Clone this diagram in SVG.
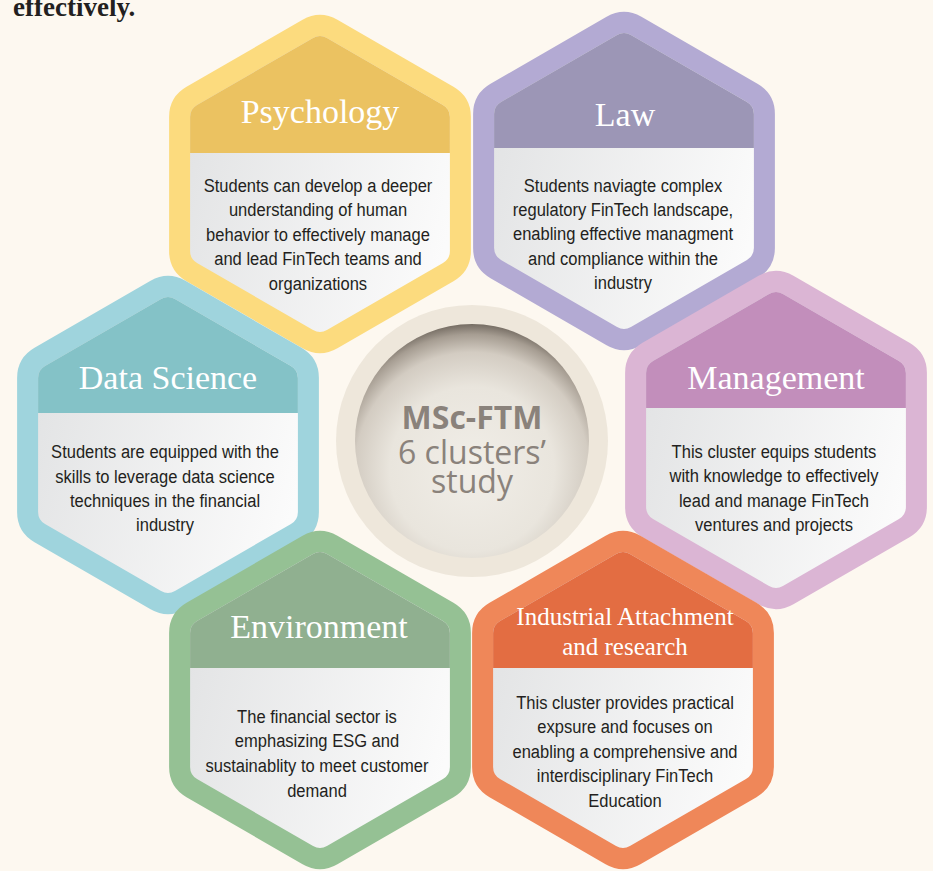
<svg xmlns="http://www.w3.org/2000/svg" xmlns:xlink="http://www.w3.org/1999/xlink" width="933" height="871" viewBox="0 0 933 871">
<defs>
<style>
.ring{fill:none;stroke-width:42;stroke-linejoin:round}
.fill{fill:url(#bodyGrad)}
.title{font-family:"Liberation Serif","Times New Roman",serif;font-size:34px;fill:#ffffff;text-anchor:middle}
.txt{font-family:"Liberation Sans","Arial",sans-serif;font-size:19px;fill:#231f20;text-anchor:middle}
.orb{font-family:"Open Sans","Noto Sans",sans-serif;font-size:32px;fill:#8a827b;text-anchor:middle}
</style>
<path id="hex" d="M6.93,-146 L122.97,-79 Q129.9,-75 129.9,-67 L129.9,67 Q129.9,75 122.97,79 L6.93,146 Q0,150 -6.93,146 L-122.97,79 Q-129.9,75 -129.9,67 L-129.9,-67 Q-129.9,-75 -122.97,-79 L-6.93,-146 Q0,-150 6.93,-146 Z"/>
<clipPath id="clipHex"><use xlink:href="#hex" href="#hex"/></clipPath>
<linearGradient id="bodyGrad" x1="0" y1="0.35" x2="1" y2="0.65">
<stop offset="0" stop-color="#e3e4e5"/>
<stop offset="1" stop-color="#fbfbfb"/>
</linearGradient>
<radialGradient id="orbGrad" cx="0.5" cy="0.62" r="0.64">
<stop offset="0" stop-color="#f1eee8"/>
<stop offset="0.55" stop-color="#e9e5dd"/>
<stop offset="0.78" stop-color="#d3ccc2"/>
<stop offset="0.9" stop-color="#a69d92"/>
<stop offset="1" stop-color="#5f574e"/>
</radialGradient>
</defs>
<rect width="933" height="871" fill="#fdf8f0"/>
<text x="13" y="16" font-family="Liberation Serif, Times New Roman, serif" font-size="27" font-weight="bold" fill="#231f20">effectively.</text>

<g id="psychology">
<g transform="translate(320,184)">
<use href="#hex" class="ring" stroke="#fcdb7e"/>
<use href="#hex" class="fill"/>
<rect x="-160" y="-160" width="320" height="129" fill="#ebc261" clip-path="url(#clipHex)"/>
</g>
<text class="title" x="320" y="123">Psychology</text>
<g transform="translate(318,0) scale(0.87,1)">
<text class="txt" x="0" y="192">Students can develop a deeper</text>
<text class="txt" x="0" y="216.5">understanding of human</text>
<text class="txt" x="0" y="241">behavior to effectively manage</text>
<text class="txt" x="0" y="265.5">and lead FinTech teams and</text>
<text class="txt" x="0" y="290">organizations</text>
</g>
</g>

<g id="law">
<g transform="translate(624,181)">
<use href="#hex" class="ring" stroke="#b3aad3"/>
<use href="#hex" class="fill"/>
<rect x="-160" y="-160" width="320" height="127" fill="#9c96b6" clip-path="url(#clipHex)"/>
</g>
<text class="title" x="625" y="126">Law</text>
<g transform="translate(623,0) scale(0.87,1)">
<text class="txt" x="0" y="192">Students naviagte complex</text>
<text class="txt" x="0" y="216">regulatory FinTech landscape,</text>
<text class="txt" x="0" y="240.5">enabling effective managment</text>
<text class="txt" x="0" y="265">and compliance within the</text>
<text class="txt" x="0" y="289">industry</text>
</g>
</g>

<g id="data-science">
<g transform="translate(168,445)">
<use href="#hex" class="ring" stroke="#9fd4dd"/>
<use href="#hex" class="fill"/>
<rect x="-160" y="-160" width="320" height="128" fill="#84c2c7" clip-path="url(#clipHex)"/>
</g>
<text class="title" x="168" y="389">Data Science</text>
<g transform="translate(165,0) scale(0.87,1)">
<text class="txt" x="0" y="458.5">Students are equipped with the</text>
<text class="txt" x="0" y="483">skills to leverage data science</text>
<text class="txt" x="0" y="507">techniques in the financial</text>
<text class="txt" x="0" y="531.5">industry</text>
</g>
</g>

<g id="management">
<g transform="translate(776,440)">
<use href="#hex" class="ring" stroke="#dbb5d4"/>
<use href="#hex" class="fill"/>
<rect x="-160" y="-160" width="320" height="128" fill="#c28ebb" clip-path="url(#clipHex)"/>
</g>
<text class="title" x="776" y="389">Management</text>
<g transform="translate(774,0) scale(0.87,1)">
<text class="txt" x="0" y="458.5">This cluster equips students</text>
<text class="txt" x="0" y="482.5">with knowledge to effectively</text>
<text class="txt" x="0" y="507">lead and manage FinTech</text>
<text class="txt" x="0" y="531.5">ventures and projects</text>
</g>
</g>

<g id="environment">
<g transform="translate(320,700)">
<use href="#hex" class="ring" stroke="#95c194"/>
<use href="#hex" class="fill"/>
<rect x="-160" y="-160" width="320" height="128" fill="#90b090" clip-path="url(#clipHex)"/>
</g>
<text class="title" x="319" y="638">Environment</text>
<g transform="translate(317,0) scale(0.87,1)">
<text class="txt" x="0" y="723.5">The financial sector is</text>
<text class="txt" x="0" y="747.5">emphasizing ESG and</text>
<text class="txt" x="0" y="772">sustainablity to meet customer</text>
<text class="txt" x="0" y="797">demand</text>
</g>
</g>

<g id="industrial-attachment">
<g transform="translate(623,700)">
<use href="#hex" class="ring" stroke="#ef8759"/>
<use href="#hex" class="fill"/>
<rect x="-160" y="-160" width="320" height="128" fill="#e36d42" clip-path="url(#clipHex)"/>
</g>
<text class="title" x="625" y="625" style="font-size:25px">Industrial Attachment</text>
<text class="title" x="625" y="655" style="font-size:25px">and research</text>
<g transform="translate(625,0) scale(0.87,1)">
<text class="txt" x="0" y="709.5">This cluster provides practical</text>
<text class="txt" x="0" y="733.5">expsure and focuses on</text>
<text class="txt" x="0" y="758">enabling a comprehensive and</text>
<text class="txt" x="0" y="782.5">interdisciplinary FinTech</text>
<text class="txt" x="0" y="807.5">Education</text>
</g>
</g>

<g id="center">
<circle cx="472" cy="441" r="136" fill="#eee7db"/>
<circle cx="472" cy="441" r="117" fill="url(#orbGrad)"/>
<text class="orb" x="472" y="428.5" font-weight="bold">MSc-FTM</text>
<text class="orb" x="472" y="463.5">6 clusters’</text>
<text class="orb" x="472" y="492.5">study</text>
</g>
</svg>
